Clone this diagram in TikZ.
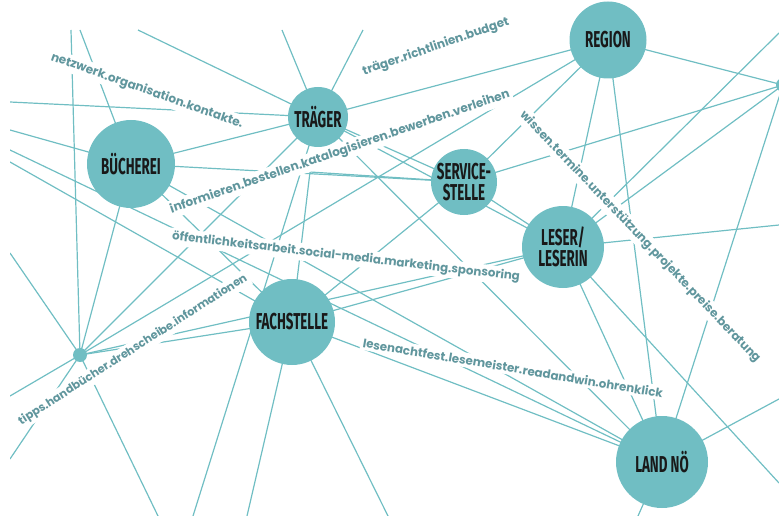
\documentclass[tikz,border=0pt]{standalone}
\usepackage{fontspec}
\newfontfamily\nodefont[FakeStretch=0.58]{Fira Sans}
\newfontfamily\labelfont{Poppins}
\definecolor{teal1}{RGB}{112,190,195}
\definecolor{lbl}{RGB}{96,150,157}
\begin{document}
\begin{tikzpicture}[x=1pt,y=-1pt,
  link/.style={draw=teal1, line width=1.2pt},
  hub/.style={circle, fill=teal1, inner sep=0pt, text=black!90, align=center,
    font=\nodefont\bfseries\fontsize{23}{21}\selectfont},
  lab/.style={fill=white, inner sep=2.5pt, text=lbl, font=\labelfont\bfseries},
  dot/.style={circle, fill=teal1, inner sep=0pt, minimum size=14pt}]
\useasboundingbox (0,0) rectangle (779,516);
% hub centres
\coordinate (B) at (131,164);
\coordinate (T) at (318,117);
\coordinate (R) at (608,40);
\coordinate (S) at (464,182);
\coordinate (L) at (563,247);
\coordinate (F) at (292,322);
\coordinate (N) at (662,462);
\coordinate (D1) at (80,355);
\coordinate (D2) at (783,85);
% free ends
\coordinate (t1) at (71,30);
\coordinate (t2) at (80,30);
\coordinate (t3) at (138,30);
\coordinate (t4) at (282,30);
\coordinate (t5) at (363,30);
\coordinate (l1) at (10,102);
\coordinate (l2) at (10,130);
\coordinate (l3) at (10,150);
\coordinate (l4) at (10,162);
\coordinate (l5) at (10,253);
\coordinate (l6) at (10,396);
\coordinate (l7) at (10,459);
\coordinate (b1) at (158,516);
\coordinate (b2) at (193,516);
\coordinate (b3) at (247,516);
\coordinate (b4) at (388,516);
\coordinate (b5) at (638,516);
\coordinate (r1) at (779,33);
\coordinate (r2) at (779,225);
\coordinate (r3) at (779,399);
\coordinate (r4) at (779,483);
\coordinate (c1) at (310,172);
\begin{scope}
\clip (10,30) rectangle (779,516);
\draw[link] (t1) -- (D1);
\draw[link] (t2) -- (B);
\draw[link] (t3) -- (T);
\draw[link] (t4) -- (T);
\draw[link] (t5) -- (T);
\draw[link] (l1) -- (T);
\draw[link] (l2) -- (B);
\draw[link] (l3) -- (N);
\draw[link] (l4) -- (F);
\draw[link] (l5) -- (D1);
\draw[link] (l6) -- (D1);
\draw[link] (l7) -- (D1);
\draw[link] (D1) -- (b1);
\draw[link] (B) -- (T);
\draw[link] (B) -- (S);
\draw[link] (B) -- (N);
\draw[link] (B) -- (F);
\draw[link] (B) -- (D1);
\draw[link] (T) -- (R);
\draw[link] (T) -- (S);
\draw[link] (T) -- (L);
\draw[link] (T) -- (N);
\draw[link] (T) -- (b2);
\draw[link] (D1) -- (T);
\draw[link] (D1) -- (R);
\draw[link] (D1) -- (F);
\draw[link] (D1) -- (L);
\draw[link] (F) -- (S);
\draw[link] (F) -- (L);
\draw[link] (F) -- (N);
\draw[link] (F) -- (b3);
\draw[link] (F) -- (b4);
\draw[link] (F) -- (c1) -- (S);
\draw[link] (S) -- (R);
\draw[link] (S) -- (L);
\draw[link] (D2) -- (S);
\draw[link] (R) -- (L);
\draw[link] (R) -- (N);
\draw[link] (R) -- (D2);
\draw[link] (r1) -- (L);
\draw[link] (D2) -- (L);
\draw[link] (r2) -- (L);
\draw[link] (L) -- (N);
\draw[link] (L) -- (r4);
\draw[link] (D2) -- (N);
\draw[link] (r3) -- (N);
\draw[link] (N) -- (b5);
\end{scope}
% labels
\node[lab, rotate=-19.5] (lab1) at (147,91) {\resizebox{203pt}{!}{netzwerk.organisation.kontakte.}};
\node[lab, rotate=19] (lab2) at (436,47) {\resizebox{154pt}{!}{träger.richtlinien.budget}};
\node[lab, rotate=18.9] (lab3) at (340,152) {\resizebox{358pt}{!}{informieren.bestellen.katalogisieren.bewerben.verleihen}};
\node[lab, rotate=-6.7] (lab4) at (346,257) {\resizebox{350pt}{!}{öffentlichkeitsarbeit.social-media.marketing.sponsoring}};
\node[lab, rotate=-46.3] (lab5) at (640,237) {\resizebox{342pt}{!}{wissen.termine.unterstützung.projekte.preise.beratung}};
\node[lab, rotate=-9.6] (lab6) at (513,368) {\resizebox{304pt}{!}{lesenachtfest.lesemeister.readandwin.ohrenklick}};
\node[lab, rotate=32.6] (lab7) at (133,350) {\resizebox{269pt}{!}{tipps.handbücher.drehscheibe.informationen}};
% hubs
\node[hub, minimum size=88pt] (Bn) at (B) {BÜCHEREI};
\node[hub, minimum size=60pt] (Tn) at (T) {TRÄGER};
\node[hub, minimum size=77pt] (Rn) at (R) {REGION};
\node[hub, minimum size=66pt] (Sn) at (S) {SERVICE-\\STELLE};
\node[hub, minimum size=82pt] (Ln) at (L) {LESER/\\LESERIN};
\node[hub, minimum size=86pt] (Fn) at (F) {FACHSTELLE};
\node[hub, minimum size=92pt] (Nn) at (N) {LAND NÖ};
\node[dot] (D1n) at (D1) {};
\node[dot] (D2n) at (D2) {};
\end{tikzpicture}
\end{document}
